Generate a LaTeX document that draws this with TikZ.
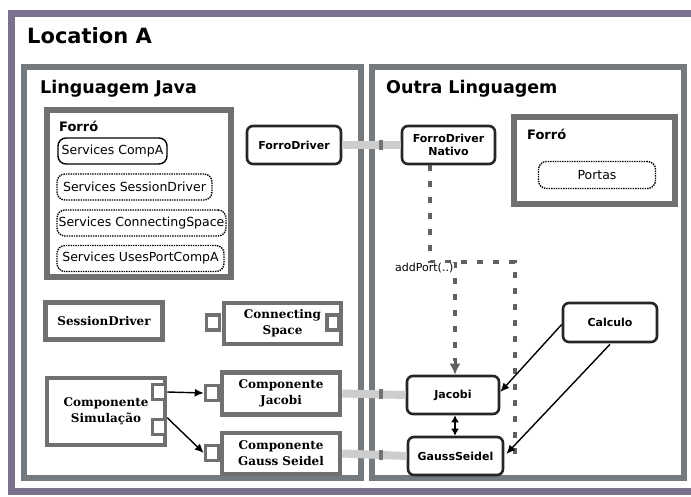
\documentclass[tikz,border=0pt]{standalone}
\usepackage{fontspec}
\setmainfont{DejaVu Sans}
\newfontfamily\slabfont{DejaVu Serif}
\usetikzlibrary{arrows.meta,calc}
\definecolor{outerframe}{RGB}{122,114,142}
\definecolor{paneframe}{RGB}{116,122,126}
\definecolor{boxframe}{RGB}{112,112,112}
\definecolor{paleline}{RGB}{205,205,205}
\definecolor{dashgray}{RGB}{95,95,95}
\tikzset{
  frame/.style={draw=boxframe, line width=5.5pt},
  pane/.style={draw=paneframe, line width=6.5pt},
  title/.style={anchor=base west, inner sep=0pt, font=\bfseries},
  svc/.style={draw=black, rounded corners=8pt, line width=1.4pt, inner sep=0pt,
    font=\fontsize{12.5}{14}\selectfont},
  svcdot/.style={svc, densely dotted},
  rbox/.style={draw=black!85, rounded corners=6pt, line width=2.6pt, inner sep=0pt,
    align=center, font=\fontsize{11}{13}\selectfont\bfseries},
  comp/.style={draw=boxframe, line width=4.5pt, fill=white, inner sep=0pt, align=center,
    font=\fontsize{12}{16}\selectfont\slabfont\bfseries},
  port/.style={draw=boxframe, line width=3.5pt, fill=white, minimum width=13pt,
    minimum height=15pt, inner sep=0pt},
  pale/.style={draw=paleline, line width=8pt},
  bindmark/.style={fill=black!55, minimum width=4pt, minimum height=10pt, inner sep=0pt},
  dashpath/.style={draw=dashgray, line width=3.6pt, dash pattern=on 6pt off 10pt},
  arr/.style={-{Latex[length=9pt,width=8pt]}, line width=1.4pt, black},
}
\begin{document}
\begin{tikzpicture}[x=1pt,y=-1pt]
\useasboundingbox (0,0) rectangle (691,497);
\fill[white] (0,0) rectangle (691,497);

% outer location frame
\draw[draw=outerframe, line width=7pt] (11,14) rectangle (697,491);
\node[title, font=\fontsize{21}{24}\selectfont\bfseries] (locA) at (27,44) {Location A};

% the two language panes
\draw[pane] (24,67) rectangle (361,478);
\draw[pane] (372,67) rectangle (684,478);
\node[title, font=\fontsize{17.5}{20}\selectfont\bfseries] (java) at (40,94) {Linguagem Java};
\node[title, font=\fontsize{17.5}{20}\selectfont\bfseries] (outra) at (386,94) {Outra Linguagem};

% Forró on the Java side with its services
\draw[frame] (47,110) rectangle (231,277);
\node[title, font=\fontsize{13}{15}\selectfont\bfseries] (forroJ) at (59,132) {Forró};
\node[svc, minimum width=109pt, minimum height=26pt] (sCompA) at (112.5,151) {Services CompA};
\node[svcdot, minimum width=155pt, minimum height=26pt] (sSess) at (134.5,187) {Services SessionDriver};
\node[svcdot, minimum width=169pt, minimum height=26pt] (sConn) at (141.5,223) {Services ConnectingSpace};
\node[svcdot, minimum width=167pt, minimum height=26pt] (sUses) at (140.5,258.5) {Services UsesPortCompA};

% Forró on the native side
\draw[frame] (514,117) rectangle (675,204);
\node[title, font=\fontsize{13}{15}\selectfont\bfseries] (forroN) at (527,140) {Forró};
\node[svcdot, minimum width=117pt, minimum height=27pt, font=\fontsize{12.5}{14}\selectfont] (portas) at (597,175) {Portas};

% drivers
\node[rbox, minimum width=94pt, minimum height=38pt] (fd) at (294,145) {ForroDriver};
\node[rbox, minimum width=93pt, minimum height=38pt] (nat) at (448.5,145) {ForroDriver\\Nativo};

% native components
\node[rbox, minimum width=94pt, minimum height=39pt] (calc) at (610,322.5) {Calculo};
\node[rbox, minimum width=92pt, minimum height=38pt] (jac) at (453,395) {Jacobi};
\node[rbox, minimum width=95pt, minimum height=38pt] (gs) at (455.5,456) {GaussSeidel};

% Java components
\node[comp, minimum width=117pt, minimum height=37pt] (sd) at (104,321) {SessionDriver};
\node[comp, minimum width=117pt, minimum height=41pt] (cs) at (282.5,323.5) {Connecting\\Space};
\node[port] (csL) at (213,322.5) {};
\node[port, minimum width=12pt] (csR) at (333,322.5) {};
\node[comp, minimum width=118pt, minimum height=67pt] (sim) at (106,411.5) {Componente\\Simulação};
\node[port] (simA) at (159,392) {};
\node[port] (simB) at (159,427) {};
\node[comp, minimum width=118pt, minimum height=42pt] (cj) at (281,393.5) {Componente\\Jacobi};
\node[port] (cjP) at (212,393) {};
\node[comp, minimum width=118pt, minimum height=41pt] (cg) at (281,453.5) {Componente\\Gauss Seidel};
\node[port] (cgP) at (212,453) {};

\draw[arr] (simA.east) -- (cjP.west);
\draw[arr] (simB.north east) -- (cgP.west);

% bindings between the Java and native sides
\draw[pale] (fd.east) -- (nat.west);
\draw[pale] (cj.east) -- (jac.west);
\draw[pale] (cg.east) -- (gs.west);
\node[bindmark] (m1) at (381,145) {};
\node[bindmark] (m2) at (381,394) {};
\node[bindmark] (m3) at (381,455) {};

% addPort path from the native driver
\coordinate (c1) at (430,262);
\coordinate (c2) at (515,262);
\coordinate (c3) at (455,262);
\draw[dashpath] (nat.south -| c1) -- (c1) -- (c2) -- (c2 |- gs.east);
\draw[dashpath] (c3) -- ($(jac.north -| c3)+(0,-14)$);
\draw[draw=dashgray, line width=3pt, -{Latex[length=11pt,width=11pt]}] ($(jac.north -| c3)+(0,-14)$) -- (jac.north -| c3);
\node[anchor=base west, inner sep=1pt, font=\fontsize{11}{13}\selectfont, fill=white] (addp) at (394,272) {addPort(..)};

% calls from Calculo and between the solvers
\draw[arr] (calc.west) ++(0,2) coordinate (k1) -- ($(jac.east)+(0,-3)$);
\draw[arr] ($(calc.south)+(0,1)$) -- ($(gs.east)+(2,-2)$);
\draw[{Latex[length=7pt,width=8pt]}-{Latex[length=7pt,width=8pt]}, line width=1.8pt] (jac.south -| c3) -- (gs.north -| c3);
\end{tikzpicture}
\end{document}
